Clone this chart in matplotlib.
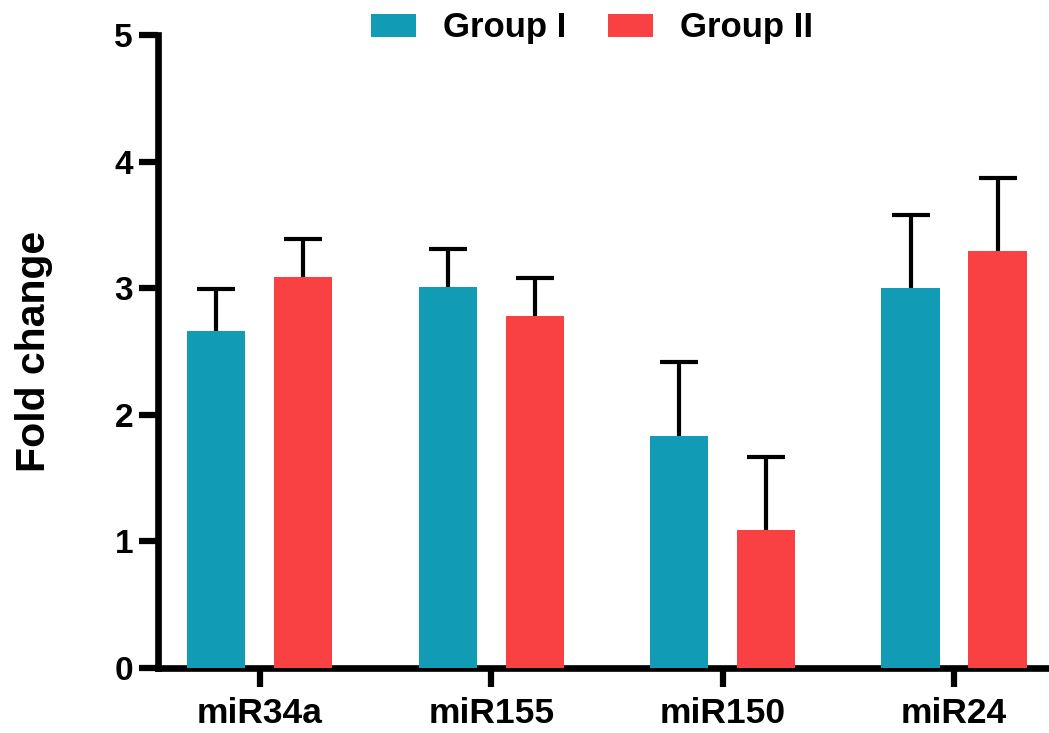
import numpy as np
import matplotlib.pyplot as plt

plt.rcParams['font.family'] = ['Liberation Sans', 'DejaVu Sans']
plt.rcParams['font.weight'] = 'bold'

# fold change per miRNA, mean and upper error
mirnas = ['miR34a', 'miR155', 'miR150', 'miR24']
group1_mean = [2.66, 3.01, 1.83, 3.00]
group1_err = [0.33, 0.30, 0.59, 0.58]
group2_mean = [3.09, 2.78, 1.09, 3.29]
group2_err = [0.30, 0.30, 0.58, 0.58]

teal = '#119BB4'
red = '#F94144'

fig = plt.figure(figsize=(10.49, 7.33), dpi=100)
ax = fig.add_axes([158 / 1049, 1 - 668 / 733, 891 / 1049, 633 / 733])

x = np.arange(len(mirnas))
w = 0.252
off = 0.188

ax.bar(x - off, group1_mean, w, color=teal, label='Group I', zorder=3)
ax.bar(x + off, group2_mean, w, color=red, label='Group II', zorder=3)

# upper error bars only
for xs, m, e in [(x - off, group1_mean, group1_err),
                 (x + off, group2_mean, group2_err)]:
    eb = ax.errorbar(xs, m, yerr=[np.zeros(len(e)), e], fmt='none',
                     ecolor='black', elinewidth=3, capsize=14, capthick=3,
                     zorder=2)
    eb[1][0].set_visible(False)

ax.set_xlim(-0.44, 3.41)
ax.set_ylim(0, 5)
ax.set_yticks([0, 1, 2, 3, 4, 5])
ax.set_xticks(x)
ax.set_xticklabels(mirnas)
ax.tick_params(axis='both', width=4.5, length=14, pad=4)
ax.tick_params(axis='y', labelsize=24)
ax.tick_params(axis='x', labelsize=25.5, pad=7)
for lab in ax.get_xticklabels() + ax.get_yticklabels():
    lab.set_fontweight('bold')

for s in ['top', 'right']:
    ax.spines[s].set_visible(False)
for s in ['left', 'bottom']:
    ax.spines[s].set_linewidth(4.8)
    ax.spines[s].set_clip_on(False)

ax.set_ylabel('Fold change', fontsize=29.5, fontweight='bold', labelpad=44)

fig.legend(loc='upper center', bbox_to_anchor=(592 / 1049, 1.027), ncol=2,
           frameon=False, handlelength=1.3, handleheight=0.66,
           handletextpad=0.77, columnspacing=1.2,
           prop={'weight': 'bold', 'size': 25})

fig.savefig('out.png', dpi=100)
